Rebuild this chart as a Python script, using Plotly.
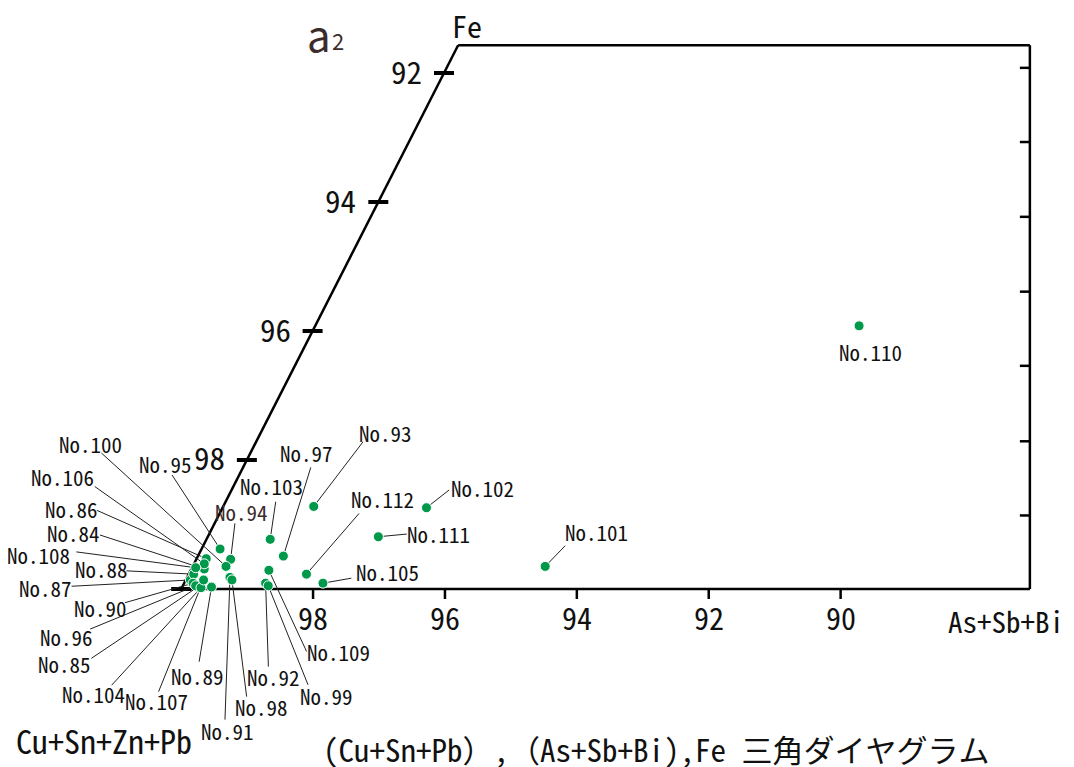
import plotly.graph_objects as go

# ---------------- data ----------------
names = ["No.84", "No.85", "No.86", "No.87", "No.88", "No.89", "No.90", "No.91",
         "No.92", "No.93", "No.94", "No.95", "No.96", "No.97", "No.98", "No.99",
         "No.100", "No.101", "No.102", "No.103", "No.104", "No.105", "No.106",
         "No.107", "No.108", "No.109", "No.110", "No.111", "No.112"]
# reading on the bottom scale (96, 94, 92 ...)
scale_vals = [99.65, 99.75, 99.62, 99.86, 99.81, 99.54, 99.82, 99.26,
              98.72, 97.99, 99.25, 99.41, 99.78, 98.45, 99.23, 98.68,
              99.32, 94.48, 96.28, 98.65, 99.70, 97.85, 99.65,
              99.66, 99.78, 98.67, 89.72, 97.01, 98.10]
# reading on the Fe scale
fe_vals = [99.69, 99.97, 99.53, 99.86, 99.77, 99.97, 99.91, 99.82,
           99.91, 98.72, 99.54, 99.38, 99.95, 99.49, 99.86, 99.95,
           99.65, 99.65, 98.74, 99.23, 99.98, 99.91, 99.61,
           99.86, 99.67, 99.71, 95.92, 99.19, 99.77]

bottom_ticks = [98, 96, 94, 92, 90]
fe_ticks = [92, 94, 96, 98]
right_ticks = [98.86, 97.71, 96.54, 95.39, 94.23, 93.07, 91.92]

FE_TOP = 91.57       # Fe value of the top edge
CORNER_V = 95.80     # bottom-scale value of the Fe corner
RIGHT_V = 87.13      # bottom-scale value of the right edge

# ---------------- label layout (pixels from the point: line end, text centre) ----------------
label_layout = {
    "No.100": (-124.6, -113.4, -135.3, -122.7),
    "No.106": (-109.5, -77.3, -142.0, -86.5),
    "No.86": (-109.3, -48.3, -134.5, -49.5),
    "No.84": (-104.3, -34.0, -130.8, -35.5),
    "No.108": (-119.3, -15.8, -157.0, -12.5),
    "No.88": (-67.3, -3.3, -92.5, -5.0),
    "No.87": (-118.8, 6.3, -144.5, 8.0),
    "No.90": (-68.0, 19.5, -93.0, 24.5),
    "No.96": (-105.5, 43.3, -129.0, 51.5),
    "No.85": (-106.3, 71.3, -133.0, 77.0),
    "No.104": (-89.3, 97.5, -107.0, 106.5),
    "No.107": (-45.0, 111.7, -47.3, 121.0),
    "No.89": (-12.4, 74.7, -13.7, 88.7),
    "No.91": (-5.0, 142.3, -2.0, 153.3),
    "No.98": (14.7, 116.7, 29.5, 127.5),
    "No.92": (2.8, 83.4, 7.5, 94.2),
    "No.99": (39.8, 99.0, 58.0, 110.0),
    "No.109": (37.7, 81.2, 69.5, 82.0),
    "No.103": (5.5, -37.6, 0.8, -53.3),
    "No.94": (4.3, -36.0, 10.8, -47.8),
    "No.95": (-48.0, -74.0, -54.5, -85.0),
    "No.97": (27.4, -88.7, 23.2, -103.5),
    "No.93": (49.3, -64.6, 71.5, -73.8),
    "No.112": (52.6, -60.7, 75.8, -75.0),
    "No.105": (28.4, -5.0, 64.2, -10.8),
    "No.111": (28.4, -2.7, 60.2, -2.7),
    "No.102": (22.6, -17.7, 55.8, -20.2),
    "No.101": (20.0, -20.7, 51.0, -34.7),
    "No.110": (None, None, 11.0, 26.5),
}

FONT = "Noto Sans Mono CJK JP, DejaVu Sans Condensed, Noto Sans CJK JP, sans-serif"
ROUND = "Noto Sans CJK JP, sans-serif"
BLACK = "#111111"
BROWN = "#3b2c2c"
GREEN = "#00984a"

# the page body has an 8 px margin: the figure is drawn 8 px in from the top-left corner
OFF = 8
W, H = 1066, 759
X_RANGE = [102.626, 86.461]
Y_RANGE = [102.760, 90.992]


def edge_v(fe):
    return 100 - (100 - fe) * (100 - CORNER_V) / (100 - FE_TOP)


fig = go.Figure()

shapes = []
frame = dict(type="line", xref="x", yref="y", line=dict(color="black", width=2.5), layer="below")
shapes.append(dict(frame, x0=100, y0=100, x1=CORNER_V, y1=FE_TOP))
shapes.append(dict(frame, x0=CORNER_V, y0=FE_TOP, x1=RIGHT_V, y1=FE_TOP))
shapes.append(dict(frame, x0=RIGHT_V, y0=FE_TOP, x1=RIGHT_V, y1=100))
shapes.append(dict(frame, x0=100, y0=100, x1=RIGHT_V, y1=100))

# Fe ticks on the slanted edge (thick bars)
for fe in fe_ticks + [100]:
    shapes.append(dict(type="line", xref="x", yref="y", xsizemode="pixel", xanchor=edge_v(fe),
                       x0=-10, x1=10, y0=fe, y1=fe, line=dict(color="black", width=4), layer="below"))
# bottom ticks (downwards)
for v in bottom_ticks:
    shapes.append(dict(type="line", xref="x", yref="y", ysizemode="pixel", yanchor=100,
                       x0=v, x1=v, y0=0, y1=-10, line=dict(color="black", width=2.5), layer="below"))
# right-edge ticks (inwards)
for fe in right_ticks:
    shapes.append(dict(type="line", xref="x", yref="y", xsizemode="pixel", xanchor=RIGHT_V,
                       x0=0, x1=-10, y0=fe, y1=fe, line=dict(color="black", width=2.5), layer="below"))

annotations = []
# leader lines and point labels
for name, v, fe in zip(names, scale_vals, fe_vals):
    tdx, tdy, cdx, cdy = label_layout[name]
    if tdx is not None:
        shapes.append(dict(type="line", xref="x", yref="y", xsizemode="pixel", ysizemode="pixel",
                           xanchor=v, yanchor=fe, x0=0, y0=0, x1=tdx, y1=-tdy,
                           line=dict(color="#222222", width=1), layer="below"))
    annotations.append(dict(x=v, y=fe, xref="x", yref="y", text=name, showarrow=False,
                            xshift=cdx, yshift=-cdy, xanchor="center", yanchor="middle",
                            font=dict(family=FONT, size=21, color=BROWN if name == "No.94" else BLACK)))

# Fe scale labels
for fe in fe_ticks:
    annotations.append(dict(x=edge_v(fe), y=fe, xref="x", yref="y", text=str(fe), showarrow=False,
                            xshift=-20, yshift=3, xanchor="right", yanchor="middle",
                            font=dict(family=FONT, size=31, color=BLACK)))
# bottom scale labels
for v in bottom_ticks:
    annotations.append(dict(x=v, y=100, xref="x", yref="y", text=str(v), showarrow=False,
                            yshift=-28, xanchor="center", yanchor="middle",
                            font=dict(family=FONT, size=30, color=BLACK)))


def screen_text(text, px, py, size, color=BLACK, family=FONT, xanchor="center"):
    annotations.append(dict(x=(px - OFF) / W, y=1 - (py - OFF) / H, xref="paper", yref="paper",
                            text=text, showarrow=False, xanchor=xanchor, yanchor="middle",
                            font=dict(family=family, size=size, color=color)))


screen_text("Fe", 467, 25, 30)
screen_text("a", 319, 34, 42, BROWN, family=ROUND)
screen_text("2", 338, 40, 22, BROWN, family=ROUND)
screen_text("As+Sb+Bi", 1006, 620, 29)
screen_text("Cu+Sn+Zn+Pb", 104, 740, 32)
screen_text("(Cu+Sn+Pb）,（As+Sb+Bi),Fe 三角ダイヤグラム", 656, 748, 31)

fig.add_trace(go.Scatter(x=scale_vals, y=fe_vals, mode="markers", text=names,
                         marker=dict(size=10, color=GREEN, line=dict(color="white", width=1)),
                         cliponaxis=False, hoverinfo="text"))

fig.update_layout(
    width=W, height=H, autosize=False,
    margin=dict(l=0, r=0, t=0, b=0),
    paper_bgcolor="white", plot_bgcolor="white",
    showlegend=False,
    xaxis=dict(range=X_RANGE, visible=False, fixedrange=True),
    yaxis=dict(range=Y_RANGE, visible=False, fixedrange=True),
    shapes=shapes, annotations=annotations,
)

fig.write_html("out.html")
